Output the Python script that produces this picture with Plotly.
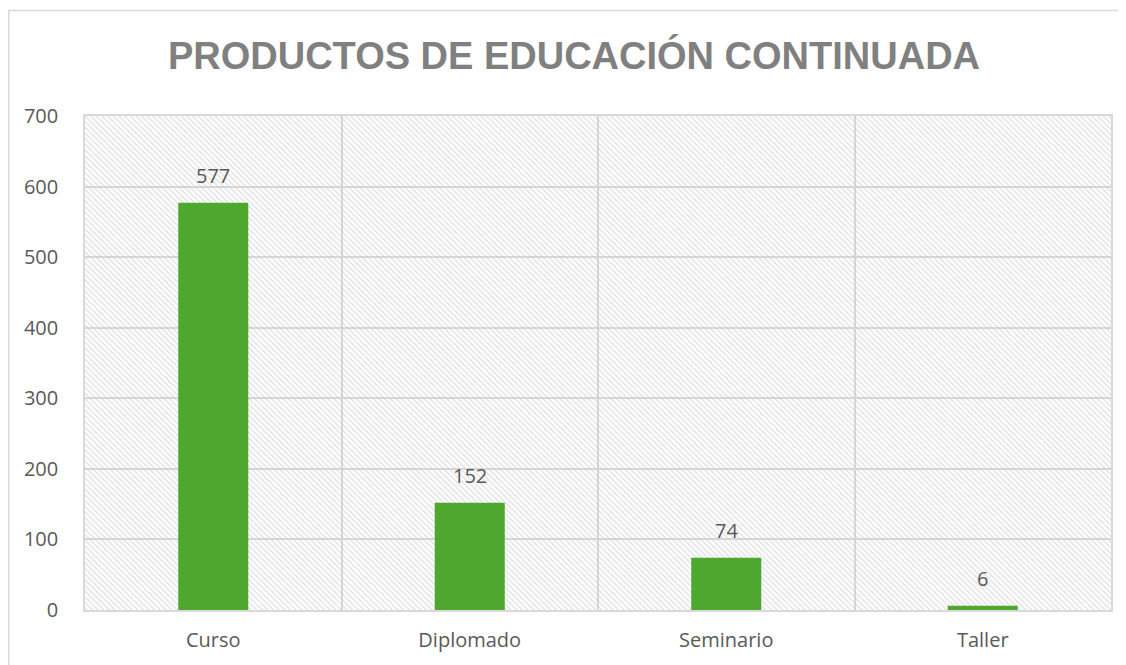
import plotly.graph_objects as go

categories = ["Curso", "Diplomado", "Seminario", "Taller"]
values = [577, 152, 74, 6]
y_ticks = [0, 100, 200, 300, 400, 500, 600, 700]

# page has 8px body margin; figure placed at (8, 8)
OFF = 8
W, H = 1126 - OFF, 665 - OFF
L, T = 85 - OFF, 116 - OFF
R = W - (1111 - OFF)
B = H - (610 - OFF)
FONT = "Open Sans"
TXT = "#595959"
GRID = "#d9d9d9"

fig = go.Figure()

# decorative hatched plot background (hidden unit axes)
fig.add_trace(go.Scatter(
    x=[0, 1, 1, 0, 0], y=[0, 0, 1, 1, 0], mode="lines", fill="toself",
    line=dict(width=0), fillcolor="rgba(0,0,0,0)",
    fillpattern=dict(shape="\\", fgcolor="#c4c4c4", bgcolor="rgba(0,0,0,0)",
                     size=4, solidity=0.35),
    hoverinfo="skip", showlegend=False, xaxis="x", yaxis="y",
))

fig.add_trace(go.Bar(
    x=categories, y=values, marker=dict(color="#4EA72E", line=dict(width=0)),
    xaxis="x2", yaxis="y2", showlegend=False,
))

for c, v in zip(categories, values):
    fig.add_annotation(x=c, y=v, xref="x2", yref="y2", text=str(v),
                       showarrow=False, yanchor="bottom", yshift=12,
                       font=dict(family=FONT, size=20, color=TXT))

fig.update_layout(
    width=W, height=H,
    margin=dict(l=L, r=R, t=T, b=B, autoexpand=False),
    paper_bgcolor="white", plot_bgcolor="white",
    bargap=0.727,
    title=dict(text="<b>PRODUCTOS DE EDUCACIÓN CONTINUADA</b>",
               x=(574 - OFF) / W, xanchor="center", xref="container",
               y=1 - (56 - OFF) / H, yanchor="middle", yref="container",
               font=dict(family="Liberation Sans", size=38, color="#808080")),
    xaxis=dict(range=[0, 1], visible=False, fixedrange=True),
    yaxis=dict(range=[0, 1], visible=False, fixedrange=True),
    xaxis2=dict(overlaying="x", type="category", tickson="boundaries",
                showgrid=True, gridcolor=GRID, gridwidth=1.5,
                showline=True, linecolor=GRID, linewidth=1.5, mirror=True,
                ticks="", tickfont=dict(family=FONT, size=20, color=TXT),
                ticklabelstandoff=11, zeroline=False),
    yaxis2=dict(overlaying="y", range=[0, 700], tickvals=y_ticks,
                showgrid=True, gridcolor=GRID, gridwidth=1.5,
                showline=True, linecolor=GRID, linewidth=1.5, mirror=True,
                ticks="", tickfont=dict(family=FONT, size=20, color=TXT),
                ticklabelstandoff=21, zeroline=False),
)

# outer chart border
pw, ph = W - L - R, H - T - B
fig.add_shape(type="rect", xref="paper", yref="paper",
              x0=(0.75 - L) / pw, x1=(W + 5 - L) / pw,
              y0=(H - B - (H + 5)) / ph, y1=(H - B - 2.5) / ph,
              line=dict(color=GRID, width=1.5), fillcolor="rgba(0,0,0,0)",
              layer="below")

fig.write_html("out.html")
